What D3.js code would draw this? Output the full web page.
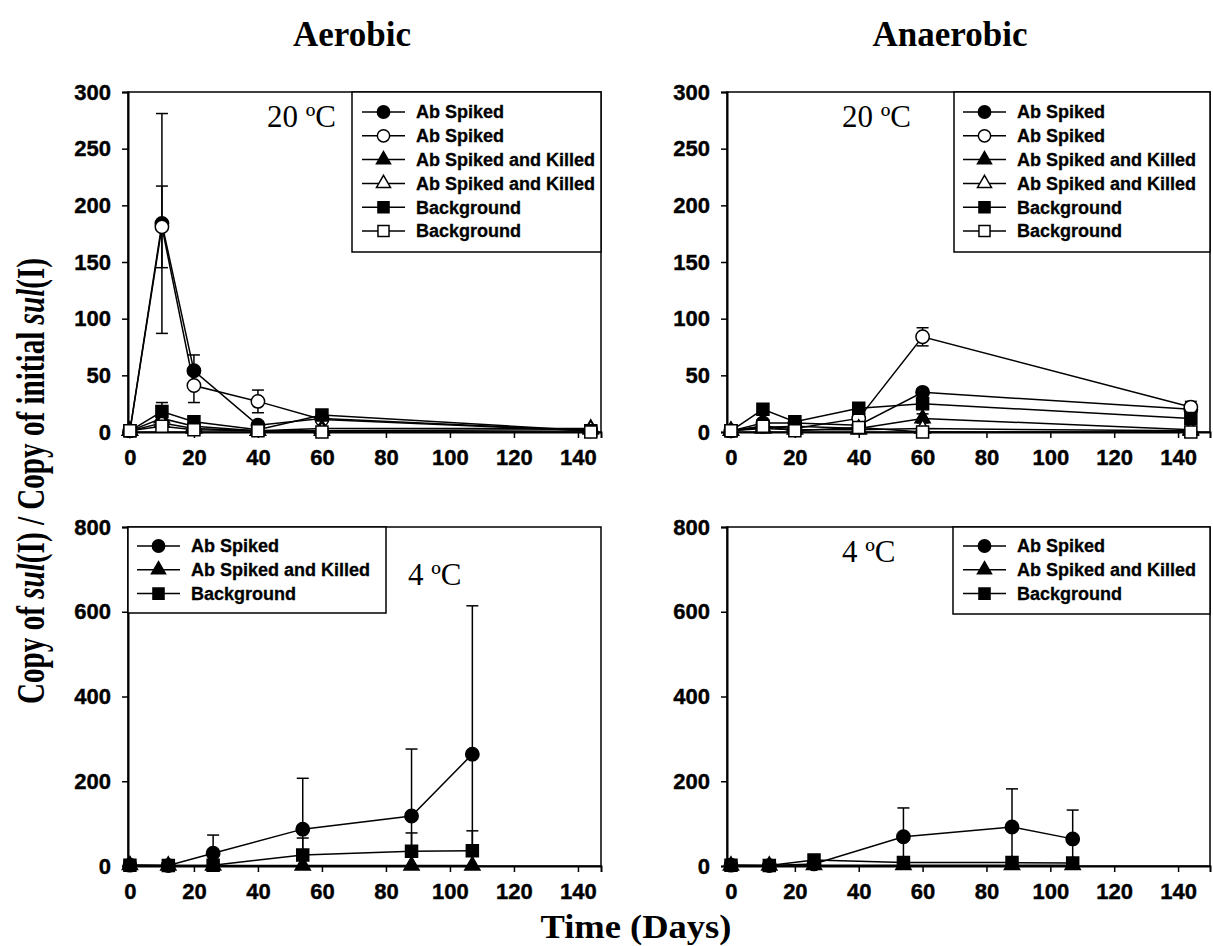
<!DOCTYPE html>
<html>
<head>
<meta charset="utf-8">
<script src="https://cdn.jsdelivr.net/npm/d3@7"></script>
<style>
  body { margin: 0; background: #fff; }
  svg { display: block; }
</style>
</head>
<body>
<div id="chart"></div>
<script>
// ---- data ----
const days20 = [0, 10, 20, 40, 60, 144];
const days4 = [0, 12, 26, 54, 88, 107];

const seriesNames = ["Ab Spiked", "Ab Spiked and Killed", "Background"];

// Aerobic 20 C
const aer20SpikedA = [1, 184, 54, 6, 12, 1];
const aer20SpikedAErr = [0, 97, 14, 0, 0, 0];
const aer20SpikedB = [1, 181, 41, 27, 11, 1];
const aer20SpikedBErr = [0, 36, 15, 10, 0, 0];
const aer20KilledA = [1, 12, 5, 1, 3, 3];
const aer20KilledB = [1, 8, 3, 1, 1, 2];
const aer20BackA = [1, 18, 9, 2, 15, 1];
const aer20BackAErr = [0, 8, 0, 0, 0, 0];
const aer20BackB = [1, 5, 2, 1, 0, 0];

// Anaerobic 20 C
const ana20SpikedA = [1, 8, 8, 6, 35, 20];
const ana20SpikedAErr = [0, 0, 0, 0, 3, 0];
const ana20SpikedB = [1, 5, 3, 12, 84, 22];
const ana20SpikedBErr = [0, 0, 0, 0, 8, 5];
const ana20KilledA = [1, 4, 5, 3, 12, 2];
const ana20KilledAErr = [0, 0, 0, 0, 4, 0];
const ana20KilledB = [1, 3, 2, 2, 3, 1];
const ana20BackA = [1, 20, 9, 21, 25, 12];
const ana20BackAErr = [0, 3, 0, 0, 5, 0];
const ana20BackB = [1, 5, 1, 4, 0, 0];

// Aerobic 4 C
const aer4Spiked = [2, 1, 30, 87, 118, 264];
const aer4SpikedErr = [0, 0, 43, 120, 158, 350];
const aer4Killed = [2, 1, 1, 1, 1, 1];
const aer4Back = [2, 1, 2, 26, 35, 36];
const aer4BackErr = [0, 0, 0, 40, 43, 47];

// Anaerobic 4 C
const ana4Spiked = [2, 1, 5, 69, 92, 64];
const ana4SpikedErr = [0, 0, 0, 68, 90, 68];
const ana4Killed = [1, 1, 2, 2, 2, 2];
const ana4Back = [2, 1, 14, 8, 8, 7];

const ticks300 = [0, 50, 100, 150, 200, 250, 300];
const ticks800 = [0, 200, 400, 600, 800];
const xTicks = [0, 20, 40, 60, 80, 100, 120, 140];

const W = 1213, H = 946;
const sans = "'Liberation Sans', Arial, sans-serif";
const serif = "'Liberation Serif', 'Times New Roman', serif";

const svg = d3.select("#chart").append("svg")
  .attr("width", W).attr("height", H);

const symbolTypes = { circle: d3.symbolCircle, triangle: d3.symbolTriangle, square: d3.symbolSquare };
const symbolSizes = { circle: 140, triangle: 100, square: 144 };

function mk(name, shape, filled, days, values, errors) {
  return { name, shape, filled, days, values, errors: errors || values.map(() => 0) };
}

const panels = [
  {
    xRange: [128, 601], xDomain: [-0.6, 147.2], yRange: [432, 92], yDomain: [0, 300], yTicks: ticks300,
    temp: "20 ºC", tempPos: [267, 127],
    legend: { x0: 352, x1: 601, y0: 92, y1: 252, lx: 362, ty: 112 },
    series: [
      mk(seriesNames[0], "circle", true, days20, aer20SpikedA, aer20SpikedAErr),
      mk(seriesNames[0], "circle", false, days20, aer20SpikedB, aer20SpikedBErr),
      mk(seriesNames[1], "triangle", true, days20, aer20KilledA),
      mk(seriesNames[1], "triangle", false, days20, aer20KilledB),
      mk(seriesNames[2], "square", true, days20, aer20BackA, aer20BackAErr),
      mk(seriesNames[2], "square", false, days20, aer20BackB)
    ]
  },
  {
    xRange: [727, 1210], xDomain: [-1.25, 150], yRange: [432, 92], yDomain: [0, 300], yTicks: ticks300,
    temp: "20 ºC", tempPos: [842, 127],
    legend: { x0: 954, x1: 1210, y0: 92, y1: 252, lx: 963, ty: 112 },
    series: [
      mk(seriesNames[0], "circle", true, days20, ana20SpikedA, ana20SpikedAErr),
      mk(seriesNames[0], "circle", false, days20, ana20SpikedB, ana20SpikedBErr),
      mk(seriesNames[1], "triangle", true, days20, ana20KilledA, ana20KilledAErr),
      mk(seriesNames[1], "triangle", false, days20, ana20KilledB),
      mk(seriesNames[2], "square", true, days20, ana20BackA, ana20BackAErr),
      mk(seriesNames[2], "square", false, days20, ana20BackB)
    ]
  },
  {
    xRange: [128, 601], xDomain: [-0.6, 147.2], yRange: [866, 527], yDomain: [0, 800], yTicks: ticks800,
    temp: "4 ºC", tempPos: [408, 585],
    legend: { x0: 128, x1: 386, y0: 527, y1: 613, lx: 137, ty: 546 },
    series: [
      mk(seriesNames[0], "circle", true, days4, aer4Spiked, aer4SpikedErr),
      mk(seriesNames[1], "triangle", true, days4, aer4Killed),
      mk(seriesNames[2], "square", true, days4, aer4Back, aer4BackErr)
    ]
  },
  {
    xRange: [727, 1210], xDomain: [-1.25, 150], yRange: [866, 527], yDomain: [0, 800], yTicks: ticks800,
    temp: "4 ºC", tempPos: [842, 562],
    legend: { x0: 953, x1: 1210, y0: 527, y1: 614, lx: 963, ty: 546 },
    series: [
      mk(seriesNames[0], "circle", true, days4, ana4Spiked, ana4SpikedErr),
      mk(seriesNames[1], "triangle", true, days4, ana4Killed),
      mk(seriesNames[2], "square", true, days4, ana4Back)
    ]
  }
];

function drawMarker(g, shape, filled, x, y, scale) {
  g.append("path")
    .attr("d", d3.symbol().type(symbolTypes[shape]).size(symbolSizes[shape] * (scale || 1))())
    .attr("transform", `translate(${x},${y})`)
    .attr("fill", filled ? "#000" : "#fff")
    .attr("stroke", "#000")
    .attr("stroke-width", 1.5);
}

panels.forEach(p => {
  const x = d3.scaleLinear().domain(p.xDomain).range(p.xRange);
  const y = d3.scaleLinear().domain(p.yDomain).range(p.yRange);
  const g = svg.append("g");

  // frame
  g.append("rect")
    .attr("x", p.xRange[0]).attr("y", p.yRange[1])
    .attr("width", p.xRange[1] - p.xRange[0])
    .attr("height", p.yRange[0] - p.yRange[1])
    .attr("fill", "none").attr("stroke", "#000").attr("stroke-width", 1.5);

  // axes
  const yAxis = g.append("g")
    .attr("transform", `translate(${p.xRange[0]},0)`)
    .call(d3.axisLeft(y).tickValues(p.yTicks).tickSize(6).tickPadding(11));
  const xAxis = g.append("g")
    .attr("transform", `translate(0,${p.yRange[0]})`)
    .call(d3.axisBottom(x).tickValues(xTicks).tickSize(6).tickPadding(11));
  [yAxis, xAxis].forEach(a => {
    a.select(".domain").attr("stroke-width", 2);
    a.selectAll(".tick line").attr("stroke-width", 1.5);
    a.selectAll("text")
      .attr("fill", "#000")
      .attr("stroke", "#000").attr("stroke-width", 0.4)
      .style("font-family", sans)
      .style("font-weight", "bold")
      .style("font-size", "22px");
  });

  // error bars
  p.series.forEach(s => {
    s.values.forEach((v, i) => {
      const e = s.errors[i];
      if (!e) return;
      const cx = x(s.days[i]);
      const lo = Math.max(0, v - e), hi = v + e;
      g.append("line")
        .attr("x1", cx).attr("x2", cx)
        .attr("y1", y(lo)).attr("y2", y(hi))
        .attr("stroke", "#000").attr("stroke-width", 1.5);
      g.append("line")
        .attr("x1", cx - 6).attr("x2", cx + 6)
        .attr("y1", y(hi)).attr("y2", y(hi))
        .attr("stroke", "#000").attr("stroke-width", 1.5);
      if (v - e > 0) {
        g.append("line")
          .attr("x1", cx - 6).attr("x2", cx + 6)
          .attr("y1", y(lo)).attr("y2", y(lo))
          .attr("stroke", "#000").attr("stroke-width", 1.5);
      }
    });
  });

  // lines
  const line = d3.line().x(d => x(d[0])).y(d => y(d[1]));
  p.series.forEach(s => {
    g.append("path")
      .attr("d", line(s.days.map((d, i) => [d, s.values[i]])))
      .attr("fill", "none").attr("stroke", "#000").attr("stroke-width", 1.5);
  });

  // markers
  p.series.forEach(s => {
    s.values.forEach((v, i) => drawMarker(g, s.shape, s.filled, x(s.days[i]), y(v)));
  });

  // temperature label
  g.append("text")
    .attr("x", p.tempPos[0]).attr("y", p.tempPos[1])
    .style("font-family", serif).style("font-size", "31px")
    .text(p.temp);

  // legend
  const L = p.legend;
  const lg = g.append("g");
  lg.append("rect")
    .attr("x", L.x0).attr("y", L.y0)
    .attr("width", L.x1 - L.x0).attr("height", L.y1 - L.y0)
    .attr("fill", "#fff").attr("stroke", "#000").attr("stroke-width", 1.5);
  p.series.forEach((s, i) => {
    const ly = L.ty + i * 23.8;
    lg.append("line")
      .attr("x1", L.lx).attr("x2", L.lx + 43)
      .attr("y1", ly).attr("y2", ly)
      .attr("stroke", "#000").attr("stroke-width", 1.5);
    drawMarker(lg, s.shape, s.filled, L.lx + 21.5, ly, 0.85);
    lg.append("text")
      .attr("x", L.lx + 54).attr("y", ly)
      .attr("dy", "0.36em")
      .attr("stroke", "#000").attr("stroke-width", 0.3)
      .style("font-family", sans).style("font-weight", "bold").style("font-size", "18px")
      .text(s.name);
  });
});

// column titles
[["Aerobic", 352], ["Anaerobic", 950]].forEach(([t, cx]) => {
  svg.append("text")
    .attr("x", cx).attr("y", 46)
    .attr("text-anchor", "middle")
    .style("font-family", serif).style("font-weight", "bold").style("font-size", "35px")
    .text(t);
});

// shared x label
svg.append("text")
  .attr("x", 636).attr("y", 938)
  .attr("text-anchor", "middle")
  .attr("textLength", 191).attr("lengthAdjust", "spacingAndGlyphs")
  .style("font-family", serif).style("font-weight", "bold").style("font-size", "34px")
  .text("Time (Days)");

// shared y label
const yl = svg.append("text")
  .attr("transform", "translate(44,481) rotate(-90)")
  .attr("text-anchor", "middle")
  .attr("textLength", 446).attr("lengthAdjust", "spacingAndGlyphs")
  .style("font-family", serif).style("font-weight", "bold").style("font-size", "39px");
yl.append("tspan").text("Copy of ");
yl.append("tspan").style("font-style", "italic").text("sul");
yl.append("tspan").text("(I) / Copy of initial ");
yl.append("tspan").style("font-style", "italic").text("sul");
yl.append("tspan").text("(I)");
</script>
</body>
</html>
